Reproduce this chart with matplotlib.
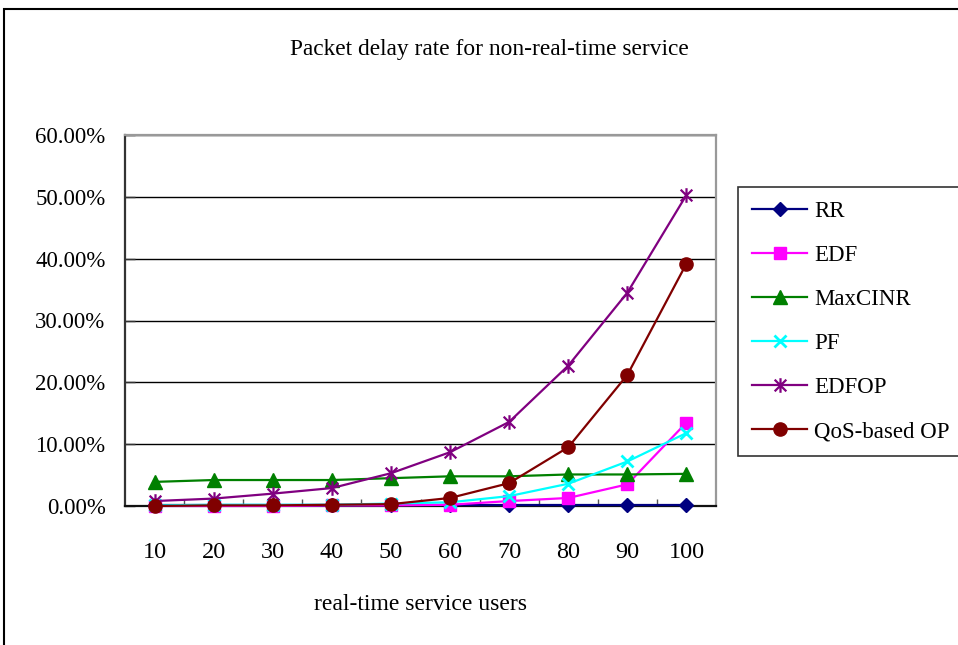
import matplotlib
matplotlib.use("Agg")
import matplotlib.pyplot as plt
from matplotlib.path import Path
from matplotlib.patches import Rectangle
from matplotlib.ticker import FixedLocator, FuncFormatter

plt.rcParams['font.family'] = ['Liberation Serif', 'DejaVu Serif']

users = [10, 20, 30, 40, 50, 60, 70, 80, 90, 100]
rr = [0.1, 0.1, 0.1, 0.1, 0.1, 0.1, 0.1, 0.1, 0.1, 0.1]
edf = [0.0, 0.0, 0.0, 0.1, 0.1, 0.2, 0.8, 1.3, 3.5, 13.5]
maxcinr = [3.9, 4.2, 4.2, 4.2, 4.5, 4.8, 4.8, 5.1, 5.1, 5.2]
pf = [0.1, 0.2, 0.2, 0.2, 0.4, 0.6, 1.6, 3.6, 7.2, 11.8]
edfop = [0.8, 1.2, 2.0, 2.9, 5.3, 8.7, 13.6, 22.7, 34.5, 50.3]
qos_op = [0.0, 0.1, 0.1, 0.2, 0.3, 1.3, 3.7, 9.5, 21.2, 39.2]

labels = ["RR", "EDF", "MaxCINR", "PF", "EDFOP", "QoS-based OP"]
y_ticks = [0, 10, 20, 30, 40, 50, 60]

# asterisk marker: an X crossed by a vertical stroke
star = Path([(-1, -1), (1, 1), (-1, 1), (1, -1), (0, -1.25), (0, 1.25)],
            [Path.MOVETO, Path.LINETO, Path.MOVETO, Path.LINETO, Path.MOVETO, Path.LINETO])

styles = [
    dict(color="#000080", marker="D", ms=7.5),
    dict(color="#FF00FF", marker="s", ms=8),
    dict(color="#008000", marker="^", ms=10.5),
    dict(color="#00FFFF", marker="x", ms=9, mew=2),
    dict(color="#800080", marker=star, ms=10.5, mew=1.6, mfc="none"),
    dict(color="#800000", marker="o", ms=9.5),
]
series = [rr, edf, maxcinr, pf, edfop, qos_op]

fig = plt.figure(figsize=(9.58, 6.45), dpi=100)
ax = fig.add_axes([125 / 958, 1 - 506 / 645, (716 - 125) / 958, (506 - 135) / 645])

x = list(range(len(users)))
for vals, lab, st in zip(series, labels, styles):
    ax.plot(x, vals, label=lab, lw=1.6, clip_on=False, zorder=3, **st)

ax.set_xlim(-0.5, len(users) - 0.5)
ax.set_ylim(0, 60)

ax.yaxis.set_major_locator(FixedLocator(y_ticks))
ax.yaxis.set_major_formatter(FuncFormatter(lambda v, p: f"{v:.2f}%"))
ax.grid(axis="y", color="black", lw=1.0)
ax.set_axisbelow(True)

ax.set_xticks(x)
ax.set_xticklabels([str(u) for u in users])
ax.set_xticks([i + 0.5 for i in range(len(users) - 1)], minor=True)
ax.tick_params(axis="x", which="major", length=0, pad=26, labelsize=17.5)
ax.tick_params(axis="x", which="minor", direction="in", length=5, width=1, color="#555555")
ax.tick_params(axis="y", direction="in", length=7, width=1, pad=14, labelsize=16.5, color="#333333")

ax.spines["left"].set_color("#333333")
ax.spines["bottom"].set_color("#111111")
ax.spines["left"].set_linewidth(1.6)
ax.spines["bottom"].set_linewidth(1.6)
ax.spines["top"].set_color("#999999")
ax.spines["right"].set_color("#999999")
ax.spines["top"].set_linewidth(1.6)
ax.spines["right"].set_linewidth(1.6)

fig.text(489 / 958, 1 - 50 / 645, "Packet delay rate for non-real-time service",
         ha="center", va="center", fontsize=16.8)
fig.text(420 / 958, 1 - 605 / 645, "real-time service users",
         ha="center", va="center", fontsize=17)

leg = fig.legend(loc="upper left", bbox_to_anchor=(738 / 958, 1 - 187 / 645),
                 borderaxespad=0, fontsize=16.5, frameon=True, fancybox=False,
                 labelspacing=1.0, handlelength=2.4, handletextpad=0.3,
                 borderpad=0.62)
leg.get_frame().set_edgecolor("black")
leg.get_frame().set_linewidth(1.2)

# page border around the chart
fig.add_artist(Rectangle((4 / 958, -0.2), 2, 1.2 - 9 / 645, transform=fig.transFigure,
                         fill=False, edgecolor="black", lw=1.5))

fig.savefig("out.png", dpi=100)
